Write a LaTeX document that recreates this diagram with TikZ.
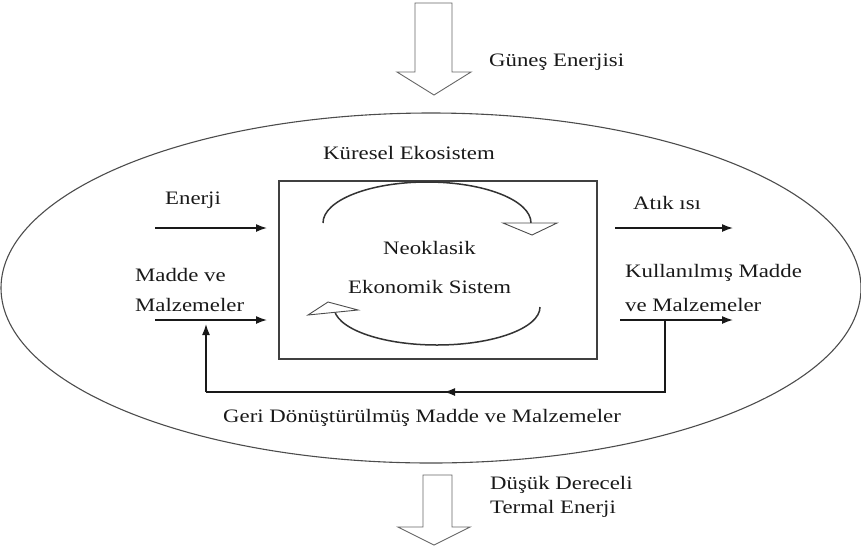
\documentclass[tikz,border=0pt]{standalone}
\usepackage{fontspec}
\setmainfont{Liberation Serif}[FakeStretch=1.2]
\usetikzlibrary{arrows.meta,shapes.geometric}
\begin{document}
\begin{tikzpicture}[x=1pt,y=-1pt,
  lbl/.style={font=\fontsize{19}{22}\selectfont, inner sep=0pt, anchor=west, text=black!90},
  flow/.style={line width=1.5pt, draw=black!90, -{Latex[length=11pt,width=8pt]}},
  block/.style={draw=black!60, line width=0.9pt, fill=white},
  cyc/.style={draw=black!80, line width=1.5pt},
  hollow/.style={draw=black!70, line width=0.9pt, fill=white},
]
\useasboundingbox (0,0) rectangle (861,547);
% global ecosystem
\node[ellipse, draw=black!70, line width=1.1pt, minimum width=860pt, minimum height=350pt, inner sep=0pt] (eco) at (431,288) {};
% economic system box
\node[draw=black!75, line width=1.2pt, minimum width=318pt, minimum height=178pt, inner sep=0pt] (econ) at (438,270) {};

% block arrows
\draw[block] (415,3) -- (452,3) -- (452,72) -- (471,72) -- (434,95) -- (397,72) -- (415,72) -- cycle;
\draw[block] (423,475) -- (452,475) -- (452,527) -- (470,527) -- (434,545) -- (398,527) -- (423,527) -- cycle;

% labels
\node[lbl] (gunes) at (489,62) {Güneş Enerjisi};
\node[lbl] (kuresel) at (323,153) {Küresel Ekosistem};
\node[lbl] (enerji) at (165,200) {Enerji};
\node[lbl] (madde1) at (135,275) {Madde ve};
\node[lbl] (madde2) at (135,305) {Malzemeler};
\node[lbl] (atik) at (633,203) {Atık ısı};
\node[lbl] (kull1) at (625,273) {Kullanılmış Madde};
\node[lbl] (kull2) at (625,305) {ve Malzemeler};
\node[lbl] (neo1) at (383,248) {Neoklasik};
\node[lbl] (neo2) at (348,287) {Ekonomik Sistem};
\node[lbl] (geri) at (223,418) {Geri Dönüştürülmüş Madde ve Malzemeler};
\node[lbl] (dusuk1) at (490,485) {Düşük Dereceli};
\node[lbl] (dusuk2) at (490,509) {Termal Enerji};

% flows in/out
\coordinate (ein0) at (155,228); \coordinate (ein1) at (267,228);
\coordinate (min0) at (155,320); \coordinate (min1) at (267,320);
\coordinate (aout0) at (615,228); \coordinate (aout1) at (733,228);
\coordinate (mout0) at (620,320); \coordinate (mout1) at (733,320);
\draw[flow] (ein0) -- (ein1);
\draw[flow] (min0) -- (min1);
\draw[flow] (aout0) -- (aout1);
\draw[flow] (mout0) -- (mout1);

% recycling loop
\coordinate (r0) at (665,320);
\coordinate (r1) at (665,392);
\coordinate (rm) at (444,392);
\coordinate (l1) at (206,392);
\coordinate (l0) at (206,324);
\draw[line width=1.5pt, draw=black!90] (r0) -- (r1) -- (l1);
\draw[flow] (r1) -- (rm);
\draw[flow] (l1) -- (l0);

% inner cycle
\draw[cyc] (323,223) arc[start angle=180, end angle=360, x radius=104, y radius=41];
\draw[hollow] (503,223) -- (557,223) -- (532,235) -- cycle;
\draw[cyc] (540,307) arc[start angle=0, end angle=180, x radius=103, y radius=38];
\draw[hollow] (308,315) -- (358,310) -- (328,302) -- cycle;
\end{tikzpicture}
\end{document}
